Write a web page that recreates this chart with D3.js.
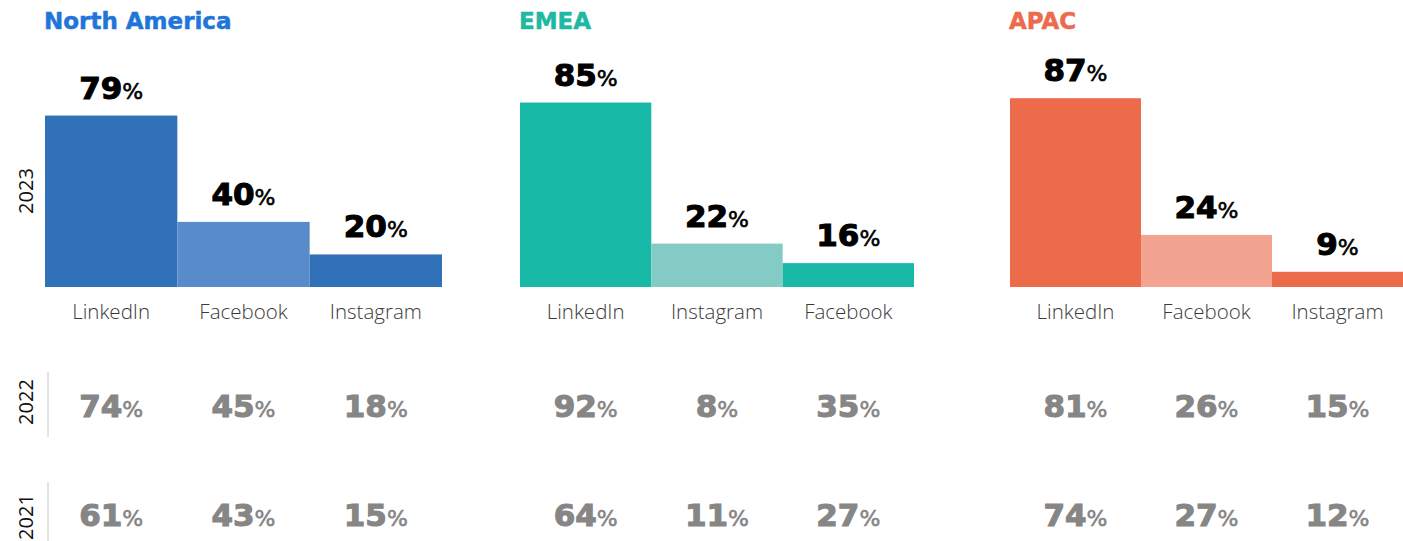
<!DOCTYPE html>
<html>
<head>
<meta charset="utf-8">
<script src="https://cdn.jsdelivr.net/npm/d3@7"></script>
<style>
  html, body { margin: 0; padding: 0; background: #fff; }
  svg { display: block; }
</style>
</head>
<body>
<svg id="chart" width="1403" height="541"></svg>
<script>
// ---------- data ----------
const regions = ["North America", "EMEA", "APAC"];
const platforms = [
  ["LinkedIn", "Facebook", "Instagram"],
  ["LinkedIn", "Instagram", "Facebook"],
  ["LinkedIn", "Facebook", "Instagram"]
];
const years = ["2023", "2022", "2021"];
// 2023 shares shown as labels
const labels2023 = [[79, 40, 20], [85, 22, 16], [87, 24, 9]];
// 2023 bar lengths as drawn in the picture
const bars2023 = [[79, 30, 15], [85, 20, 11], [87, 24, 7]];
const values2022 = [[74, 45, 18], [92, 8, 35], [81, 26, 15]];
const values2021 = [[61, 43, 15], [64, 11, 27], [74, 27, 12]];

// ---------- styles ----------
const titleColors = ["#1f76d8", "#1eb8a3", "#ec6a4d"];
const barColors = [
  ["#3171b7", "#588bca", "#3171b7"],
  ["#19b9a7", "#83cbc4", "#19b9a7"],
  ["#ec6b4b", "#f2a491", "#ec6b4b"]
];
const regionRanges = [[45, 442], [520, 914], [1010, 1403]];
const baseline = 287;
const boldFont = "'DejaVu Sans', 'Noto Sans', sans-serif";
const lightFont = "'Open Sans', 'Noto Sans', sans-serif";

const svg = d3.select("#chart");
const y = d3.scaleLinear().domain([0, 100]).range([baseline, 70]);

function valueText(sel, color, getNum) {
  sel.attr("font-family", boldFont)
    .attr("font-weight", 700)
    .attr("fill", color)
    .attr("stroke", color)
    .attr("paint-order", "stroke");
  sel.append("tspan").attr("font-size", 31).attr("stroke-width", 1.1).text(getNum);
  sel.append("tspan").attr("font-size", 22).attr("font-weight", 400).attr("stroke-width", 0.6).text("%");
}

regions.forEach((region, r) => {
  const g = svg.append("g");
  const x = d3.scaleBand().domain(platforms[r]).range(regionRanges[r]).padding(0);

  // title
  g.append("text")
    .attr("x", regionRanges[r][0] - 1)
    .attr("y", 29)
    .attr("font-family", boldFont)
    .attr("font-weight", 700)
    .attr("font-size", 23)
    .attr("fill", titleColors[r])
    .attr("stroke", titleColors[r])
    .attr("stroke-width", 0.5)
    .text(region);

  // bars
  g.selectAll("rect.bar")
    .data(platforms[r])
    .join("rect")
    .attr("class", "bar")
    .attr("x", d => x(d))
    .attr("width", x.bandwidth())
    .attr("y", (d, i) => y(bars2023[r][i]))
    .attr("height", (d, i) => baseline - y(bars2023[r][i]))
    .attr("fill", (d, i) => barColors[r][i]);

  // value labels above bars
  const lbl = g.selectAll("text.val")
    .data(platforms[r])
    .join("text")
    .attr("class", "val")
    .attr("x", d => x(d) + x.bandwidth() / 2)
    .attr("y", (d, i) => y(bars2023[r][i]) - 17)
    .attr("text-anchor", "middle");
  valueText(lbl, "#000", (d, i) => labels2023[r][i]);

  // category axis labels
  g.selectAll("text.cat")
    .data(platforms[r])
    .join("text")
    .attr("class", "cat")
    .attr("x", d => x(d) + x.bandwidth() / 2)
    .attr("y", 319)
    .attr("text-anchor", "middle")
    .attr("font-family", lightFont)
    .attr("font-weight", 300)
    .attr("font-size", 20.5)
    .attr("fill", "#3a3a3a")
    .text(d => d);

  // earlier years rows
  [[values2022, 417], [values2021, 526]].forEach(([vals, yb]) => {
    const t = g.selectAll(null)
      .data(platforms[r])
      .join("text")
      .attr("x", d => x(d) + x.bandwidth() / 2)
      .attr("y", yb)
      .attr("text-anchor", "middle");
    valueText(t, "#868686", (d, i) => vals[r][i]);
  });
});

// year labels (left side)
const yearCenters = [191, 402, 517];
years.forEach((yr, i) => {
  svg.append("text")
    .attr("transform", `translate(33,${yearCenters[i]}) rotate(-90)`)
    .attr("text-anchor", "middle")
    .attr("font-family", lightFont)
    .attr("font-weight", 400)
    .attr("font-size", 20)
    .attr("fill", "#111")
    .text(yr);
});
// separator lines for earlier years
[[372, 437], [482, 541]].forEach(([a, b]) => {
  svg.append("line")
    .attr("x1", 48).attr("x2", 48)
    .attr("y1", a).attr("y2", b)
    .attr("stroke", "#c8c8c8")
    .attr("stroke-width", 1);
});
</script>
</body>
</html>
